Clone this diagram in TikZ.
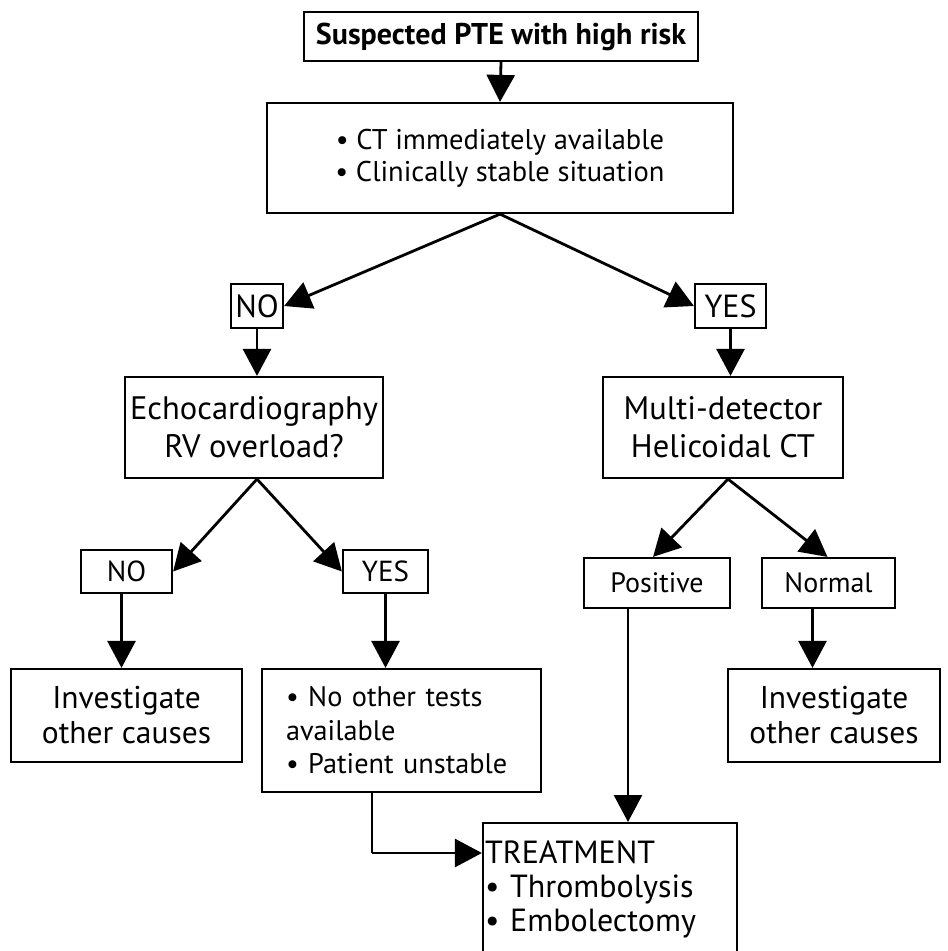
\documentclass[tikz,border=0pt]{standalone}
\usepackage{fontspec}
\setmainfont{PT Sans}
\usetikzlibrary{arrows.meta}
\begin{document}
\begin{tikzpicture}[x=1pt,y=-1pt,
  box/.style={draw,line width=2.2pt,inner sep=0pt,align=center},
  arr/.style={line width=2.8pt,-{Triangle[width=28pt,length=27pt]}},
  lin/.style={line width=2.8pt}]
\useasboundingbox (0,0) rectangle (948,951);
\clip (0,0) rectangle (948,951);
\node[box,minimum width=394pt,minimum height=49pt,font=\bfseries\fontsize{30}{34}\selectfont] (top) at (501,36.5) {Suspected PTE with high risk};
\node[box,minimum width=466pt,minimum height=110pt,font=\fontsize{28.5}{32}\selectfont] (cond) at (500,158) {• CT immediately available\\• Clinically stable situation};
\node[box,minimum width=52pt,minimum height=44pt,font=\fontsize{32}{36}\selectfont] (no1) at (257,306) {NO};
\node[box,minimum width=71pt,minimum height=44pt,font=\fontsize{32}{36}\selectfont] (yes1) at (730.5,306) {YES};
\node[box,minimum width=258pt,minimum height=101pt,font=\fontsize{32.5}{38}\selectfont] (echo) at (254,427.5) {Echocardiography\\RV overload?};
\node[box,minimum width=240pt,minimum height=101pt,font=\fontsize{32.5}{38}\selectfont] (multi) at (723,427.5) {Multi-detector\\Helicoidal CT};
\node[box,minimum width=91pt,minimum height=43pt,font=\fontsize{29}{32}\selectfont] (no2) at (126.5,571.5) {NO};
\node[box,minimum width=85pt,minimum height=43pt,font=\fontsize{29}{32}\selectfont] (yes2) at (385.5,571.5) {YES};
\node[box,minimum width=231pt,minimum height=93pt,font=\fontsize{31.5}{35}\selectfont] (inv1) at (126.5,715.5) {Investigate\\other causes};
\node[box,minimum width=279pt,minimum height=123pt,align=left,text width=231pt,font=\fontsize{28.3}{33.5}\selectfont] (tests) at (401.5,730.5) {• No other tests\\available\\• Patient unstable};
\node[box,minimum width=146pt,minimum height=50pt,font=\fontsize{28}{32}\selectfont] (pos) at (657,583) {Positive};
\node[box,minimum width=133pt,minimum height=50pt,font=\fontsize{28}{32}\selectfont] (norm) at (828.5,583) {Normal};
\node[box,minimum width=212pt,minimum height=93pt,font=\fontsize{31.5}{35}\selectfont] (inv2) at (834,715.5) {Investigate\\other causes};
\node[box,anchor=north,minimum width=254pt,inner xsep=2pt,inner ysep=0pt,align=left,text width=250pt,font=\fontsize{32}{34}\selectfont] (treat) at (610,822) {\rule{0pt}{40pt}TREATMENT\\• Thrombolysis\\• Embolectomy\\\rule{0pt}{60pt}};
\coordinate (bend) at (372,853);
\draw[arr] (top.south) -- (cond.north);
\draw[arr] (cond.south) -- (no1.east);
\draw[arr] (cond.south) -- (yes1.west);
\draw[arr] (no1.south) -- (no1.south |- echo.north);
\draw[arr] (yes1.south) -- (yes1.south |- multi.north);
\draw[arr] ([xshift=3pt]echo.south) -- (no2.east);
\draw[arr] ([xshift=3pt]echo.south) -- (yes2.west);
\draw[arr] ([xshift=-5pt]no2.south) -- ([xshift=-5pt]no2.south |- inv1.north);
\draw[arr] (yes2.south) -- (yes2.south |- tests.north);
\draw[arr] ([xshift=5pt]multi.south) -- ([xshift=-4pt]pos.north);
\draw[arr] ([xshift=5pt]multi.south) -- ([xshift=-1pt]norm.north);
\draw[arr] ([xshift=-16pt]norm.south) -- ([xshift=-16pt]norm.south |- inv2.north);
\draw[arr] ([xshift=-29pt]pos.south) -- ([xshift=-29pt]pos.south |- treat.north);
\draw[lin] (bend |- tests.south) -- (bend);
\draw[arr] (bend) -- (bend -| treat.west);
\end{tikzpicture}
\end{document}
